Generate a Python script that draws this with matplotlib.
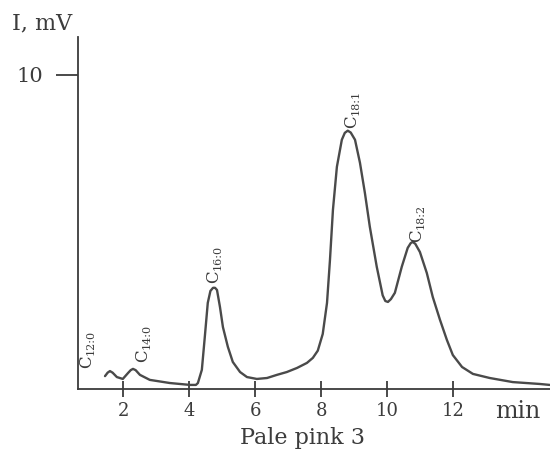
import matplotlib
matplotlib.use("Agg")
import matplotlib.pyplot as plt

# chromatogram trace (time in min, signal in mV)
tiempo = [1.44, 1.52, 1.59, 1.67, 1.80, 1.98, 2.14, 2.22, 2.29, 2.37, 2.50, 2.80, 3.41,
          4.02, 4.20, 4.26, 4.38, 4.47, 4.56, 4.64, 4.72, 4.78, 4.84, 4.93, 5.02, 5.17,
          5.32, 5.54, 5.75, 6.05, 6.36, 6.66, 6.96, 7.27, 7.57, 7.75, 7.90, 8.05, 8.18,
          8.27, 8.36, 8.48, 8.63, 8.72, 8.81, 8.90, 9.03, 9.18, 9.33, 9.48, 9.69, 9.87,
          9.95, 10.03, 10.12, 10.24, 10.45, 10.63, 10.72, 10.78, 10.86, 11.00, 11.21,
          11.39, 11.61, 11.82, 12.00, 12.28, 12.61, 13.12, 13.82, 14.64, 14.94]
senal = [0.41, 0.52, 0.57, 0.52, 0.38, 0.32, 0.51, 0.60, 0.64, 0.60, 0.45, 0.29, 0.19,
         0.13, 0.13, 0.19, 0.61, 1.66, 2.74, 3.12, 3.22, 3.22, 3.15, 2.61, 1.97, 1.34,
         0.86, 0.54, 0.38, 0.32, 0.35, 0.45, 0.54, 0.67, 0.83, 0.99, 1.22, 1.75, 2.74,
         4.11, 5.70, 7.07, 7.93, 8.15, 8.22, 8.16, 7.93, 7.20, 6.24, 5.16, 3.89, 2.98,
         2.80, 2.77, 2.86, 3.06, 3.89, 4.49, 4.64, 4.68, 4.62, 4.36, 3.69,
         2.93, 2.20, 1.56, 1.08, 0.70, 0.48, 0.35, 0.22, 0.16, 0.13]

picos = ['12:0', '14:0', '16:0', '18:1', '18:2']
picos_t = [0.89, 2.59, 4.75, 8.93, 10.91]
picos_v = [0.67, 0.86, 3.38, 8.31, 4.68]

xticks = [2, 4, 6, 8, 10, 12]
yticks = [10]

gris = '#3c3c3c'
fuente = 'DejaVu Serif'
plt.rcParams['mathtext.fontset'] = 'dejavuserif'

fig = plt.figure(figsize=(5.5, 4.59), dpi=100)
ax = fig.add_axes([78 / 550, 70 / 459, 472 / 550, 352 / 459])
ax.plot(tiempo, senal, color='#4a4a4a', lw=1.7, solid_capstyle='round')

ax.set_xlim(0.62, 14.95)
ax.set_ylim(0, 11.2)
ax.spines['top'].set_visible(False)
ax.spines['right'].set_visible(False)
ax.spines['left'].set_color(gris)
ax.spines['bottom'].set_color(gris)
ax.spines['left'].set_linewidth(1.3)
ax.spines['bottom'].set_linewidth(1.3)

ax.set_xticks(xticks)
ax.set_xticklabels([str(t) for t in xticks], fontfamily=fuente, fontsize=13, color=gris)
ax.tick_params(axis='x', direction='inout', length=12, width=1.3, color=gris, pad=3)
ax.set_yticks(yticks)
ax.set_yticklabels(['10'], fontfamily=fuente, fontsize=15, color=gris)
ax.tick_params(axis='y', direction='out', length=16, width=1.3, color=gris, pad=9)
for lab in ax.get_yticklabels():
    lab.set_y(10.15)

# peak names: a big "C" with a small rotated subscript next to it
for sub, t, v in zip(picos, picos_t, picos_v):
    ax.annotate('C', (t, v), rotation=90, ha='center', va='bottom', fontsize=12,
                fontfamily=fuente, color=gris, annotation_clip=False)
    ax.annotate(sub, (t, v), xytext=(2.5, 9), textcoords='offset points',
                rotation=90, ha='center', va='bottom', fontsize=8,
                fontfamily=fuente, color=gris, annotation_clip=False)

fig.text(12 / 550, 1 - 23 / 459, 'I, mV', ha='left', va='center',
         fontfamily=fuente, fontsize=16, color=gris)
fig.text(518 / 550, 1 - 412 / 459, 'min', ha='center', va='center',
         fontfamily=fuente, fontsize=17, color=gris)
fig.text(302 / 550, 1 - 438 / 459, 'Pale pink 3', ha='center', va='center',
         fontfamily=fuente, fontsize=16, color=gris)

plt.savefig('out.png', dpi=100, facecolor='white')
